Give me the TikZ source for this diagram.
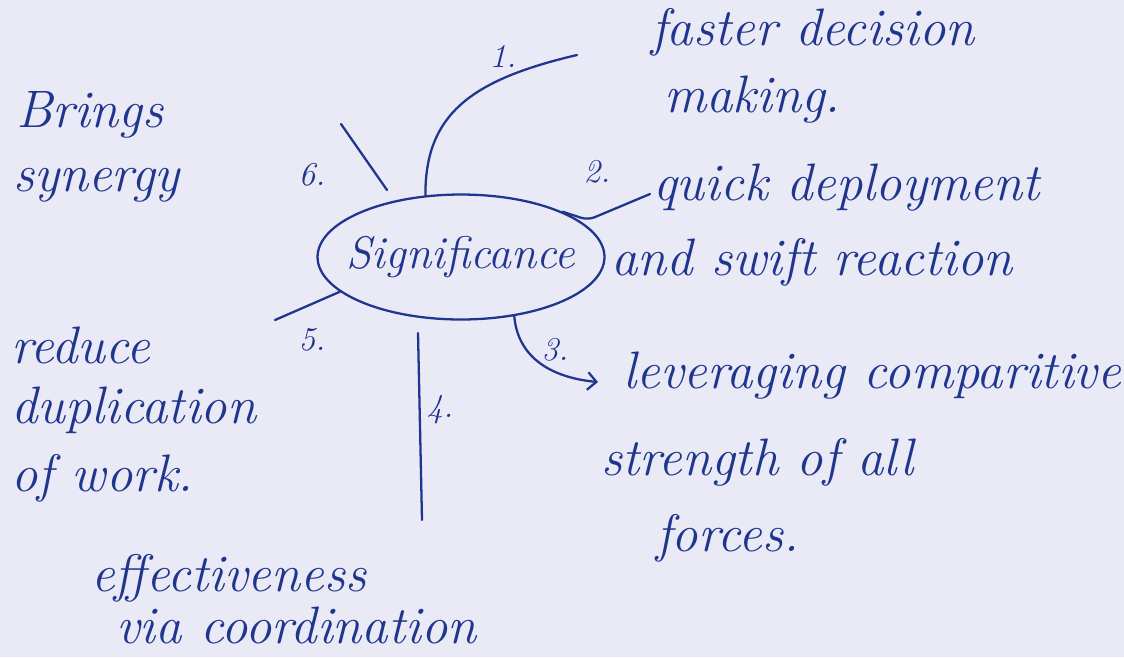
\documentclass[tikz,border=0pt]{standalone}
\usetikzlibrary{positioning, arrows.meta, shapes.geometric}
\definecolor{ink}{RGB}{32,54,142}
\definecolor{paper}{RGB}{234,234,247}

\begin{document}
\begin{tikzpicture}[x=0.02cm, y=-0.02cm, color=ink, line width=1.3pt, line cap=round,
    hand/.style={anchor=west, inner sep=0pt, font=\fontsize{30}{33}\selectfont\itshape},
    num/.style={inner sep=0pt, font=\fontsize{19}{22}\selectfont\itshape}]

    % Papír
    \fill[paper] (0,0) rectangle (1124,657);
    \useasboundingbox (0,0) rectangle (1124,657);

    % 1. Střed
    \node[ellipse, draw, minimum width=5.74cm, minimum height=2.5cm, inner sep=0pt,
          inner xsep=-1.2cm, font=\fontsize{26}{29}\selectfont\itshape] (sig) at (461,257) {Significance};

    % 2. Popisky
    \foreach \nm/\x/\y/\txt in {faster/650/32/faster decision, making/663/100/making.,
        quick/652/188/quick deployment, swift/610/262/and swift reaction,
        lever/622/376/leveraging comparitive, strength/600/462/strength of all,
        forces/655/538/forces.,
        effect/90/578/effectiveness, coord/115/625/via coordination,
        reduce/10/345/reduce, dupl/10/410/duplication, work/10/478/of work.,
        brings/15/115/Brings, synergy/12/185/synergy} {
        \node[hand] (\nm) at (\x,\y) {\txt};
    }

    % Čísla větví
    \foreach \i/\x/\y in {1/503/56, 2/597/172, 3/555/350, 4/440/410, 5/312/340, 6/312/175} {
        \node[num] (n\i) at (\x,\y) {\i.};
    }

    % 3. Volné konce větví
    \coordinate (e1) at (577,55);
    \coordinate (e2) at (650,194);
    \coordinate (e3) at (598,382);
    \coordinate (s4) at (418,333);
    \coordinate (e4) at (422,520);
    \coordinate (e5) at (275,320);
    \coordinate (s6) at (387,190);
    \coordinate (e6) at (341,124);

    % 4. Větve
    \draw (sig.120) .. controls (425,115) and (470,80) .. (e1);
    \draw[rounded corners=4pt] (sig.24) -- (588,220) -- (e2);
    \draw[-{Straight Barb[length=5pt]}] (sig.-48) .. controls (518,360) and (555,378) .. (e3);
    \draw (s4) -- (e4);
    \draw (sig.196) -- (e5);
    \draw (s6) -- (e6);

\end{tikzpicture}
\end{document}
